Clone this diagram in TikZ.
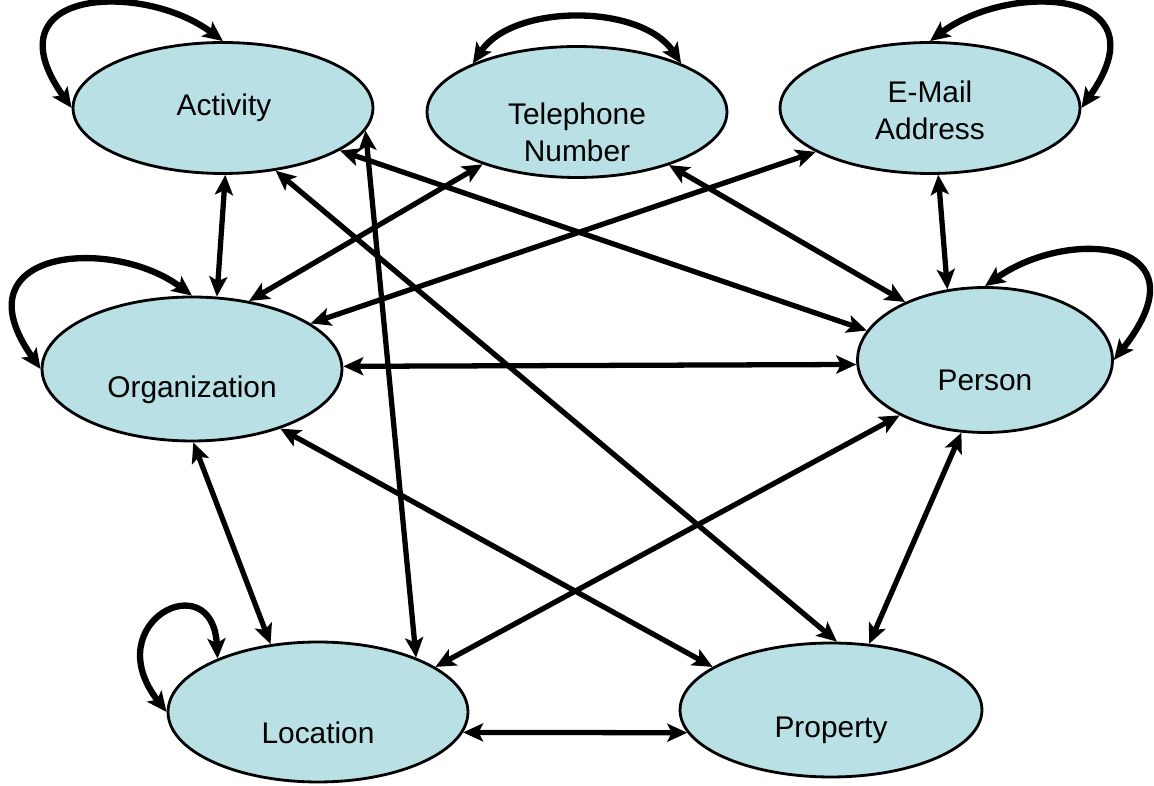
\documentclass[tikz,border=0pt]{standalone}
\usepackage{fontspec}
\setmainfont{Liberation Sans}
\usetikzlibrary{shapes.geometric,arrows.meta}
\definecolor{ink}{HTML}{000000}
\definecolor{pale}{HTML}{B9E0E4}

\begin{document}
\begin{tikzpicture}[
  x=0.02cm, y=-0.02cm,
  >={Stealth[length=4mm,width=3.6mm,inset=0.9mm]},
  ent/.style={draw=ink, fill=pale, line width=1.6pt, ellipse,
              minimum width=6cm, minimum height=2.62cm, inner sep=0pt},
  tag/.style={font=\fontsize{17}{21}\selectfont, align=center,
              text=ink, inner sep=0pt},
  rel/.style={<->, line width=3pt, draw=ink},
  selfloop/.style={<->, line width=3.6pt, draw=ink},
]
\useasboundingbox (0,0) rectangle (1154,786);

\node[ent] (act) at (223,108) {};
\node[ent] (tel) at (577,112) {};
\node[ent] (mail) at (930,108) {};
\node[ent, minimum height=2.88cm] (org) at (192,369) {};
\node[ent, minimum width=5.1cm, minimum height=2.9cm] (per) at (985,360) {};
\node[ent, minimum height=2.8cm] (loc) at (318,712) {};
\node[ent, minimum width=6.04cm, minimum height=2.68cm] (prop) at (831,710) {};

\node[tag] (actl) at (224,108) {Activity};
\node[tag] (tell) at (577,132) {Telephone\\Number};
\node[tag] (maill) at (930,110) {E-Mail\\Address};
\node[tag] (orgl) at (192,390) {Organization};
\node[tag] (perl) at (985,380) {Person};
\node[tag] (locl) at (318,733) {Location};
\node[tag] (propl) at (831,730) {Property};

% self relations
\draw[selfloop] (act.north) .. controls +(-80,-60) and +(-85,-120) .. (act.west);
\draw[selfloop] (tel.155) .. controls +(40,-60) and +(-40,-60) .. (tel.25);
\draw[selfloop] (mail.north) .. controls +(80,-60) and +(85,-120) .. (mail.east);
\draw[selfloop] (org.north) .. controls +(-80,-60) and +(-85,-120) .. (org.west);
\draw[selfloop] (per.north) .. controls +(85,-60) and +(95,-120) .. (per.east);
\draw[selfloop] (loc.152) .. controls +(-5,-95) and +(-70,-90) .. (loc.west);

% relations between entities
\draw[rel] (act.-88) -- (org.71);
\draw[rel] (act.-20.6) -- (per.166.5);
\draw[rel] (act.-50) -- (prop.85);
\draw[rel] (act.-9.4) -- (loc.29);
\draw[rel] (tel.-151) -- (org.50.6);
\draw[rel] (tel.-30) -- (per.144.5);
\draw[rel] (mail.-159.6) -- (org.21.6);
\draw[rel] (mail.-83) -- (per.118.5);
\draw[rel] (org.1.5) -- (per.182.3);
\draw[rel] (org.-89) -- (loc.125.3);
\draw[rel] (org.-34.7) -- (prop.160.9);
\draw[rel] (per.-147.8) -- (loc.21.4);
\draw[rel] (per.-108) -- (prop.60.3);
\draw[rel] (loc.-8.9) -- (prop.189.1);
\end{tikzpicture}
\end{document}
